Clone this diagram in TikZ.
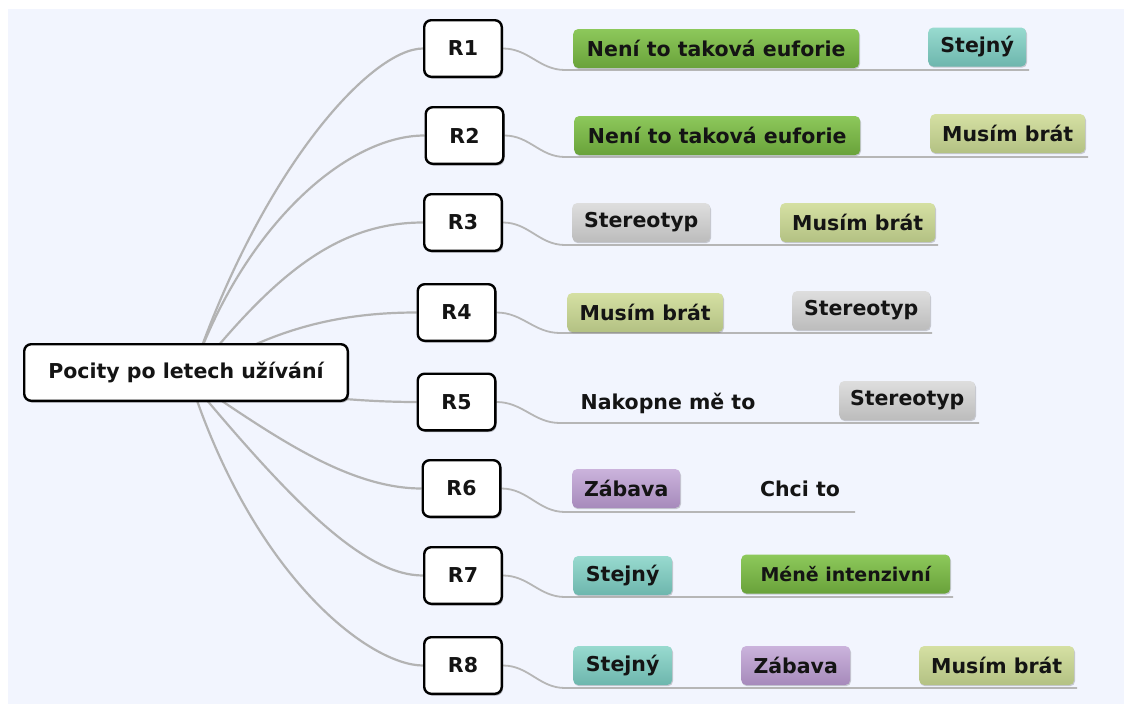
\documentclass[tikz,border=0pt]{standalone}
\usepackage{fontspec}
\setmainfont{DejaVu Sans}
\usetikzlibrary{shadows,backgrounds}

\definecolor{canvas}{HTML}{F2F5FE}
\definecolor{ink}{HTML}{141414}
\definecolor{wire}{HTML}{B3B3B3}
\definecolor{wirethin}{HTML}{B6B6B6}
\definecolor{greenTop}{HTML}{8DC85B}
\definecolor{greenBot}{HTML}{69A23A}
\definecolor{tealTop}{HTML}{98DACF}
\definecolor{tealBot}{HTML}{6DB6AD}
\definecolor{oliveTop}{HTML}{D5E0A3}
\definecolor{oliveBot}{HTML}{B3C183}
\definecolor{grayTop}{HTML}{DEDEDE}
\definecolor{grayBot}{HTML}{BCBCBC}
\definecolor{purpleTop}{HTML}{CBB3DC}
\definecolor{purpleBot}{HTML}{A68ABB}

\begin{document}
\begin{tikzpicture}[x=1pt,y=-1pt,
  every node/.style={font=\fontsize{20.5}{24}\selectfont\bfseries, text=ink},
  softshadow/.style={drop shadow={shadow xshift=1.2pt, shadow yshift=-1.8pt, opacity=0.28, fill=black}},
  rbox/.style={draw=black, line width=2.4pt, rounded corners=7pt, fill=white,
    minimum width=77.6pt, minimum height=56.6pt, inner sep=0pt, softshadow},
  rootbox/.style={rbox, minimum width=323.6pt},
  tag/.style={rounded corners=5pt, minimum height=39pt, inner sep=0pt, anchor=west,
    drop shadow={shadow xshift=0.8pt, shadow yshift=-1.2pt, opacity=0.18, fill=black}},
  tgreen/.style={tag, top color=greenTop, bottom color=greenBot},
  tteal/.style={tag, top color=tealTop, bottom color=tealBot},
  tolive/.style={tag, top color=oliveTop, bottom color=oliveBot},
  tgray/.style={tag, top color=grayTop, bottom color=grayBot},
  tpurple/.style={tag, top color=purpleTop, bottom color=purpleBot},
  plain/.style={inner sep=0pt},
  lconn/.style={draw=wire, line width=2.2pt},
  rconn/.style={draw=wirethin, line width=1.8pt}
]
\useasboundingbox (0,0) rectangle (1124,704);

% central topic and respondents
\node[rootbox] (root) at (186,372.5) {Pocity po letech užívání};
\coordinate (hub) at (190,380);

\node[rbox] (R1) at (463,48.5) {R1};
\node[rbox] (R2) at (464.5,135.5) {R2};
\node[rbox] (R3) at (463,222.5) {R3};
\node[rbox] (R4) at (456.5,312.5) {R4};
\node[rbox] (R5) at (456.5,402) {R5};
\node[rbox] (R6) at (461.5,488.5) {R6};
\node[rbox] (R7) at (463,575.5) {R7};
\node[rbox] (R8) at (463,665.5) {R8};

% answer tags
\node[tgreen, minimum width=286pt] (t11) at (573,48.5) {Není to taková euforie};
\node[tteal, minimum width=98pt] (t12) at (928,47) {Stejný};

\node[tgreen, minimum width=286pt] (t21) at (574,135.5) {Není to taková euforie};
\node[tolive, minimum width=155pt] (t22) at (930,133.5) {Musím brát};

\node[tgray, minimum width=138pt] (t31) at (572,222.5) {Stereotyp};
\node[tolive, minimum width=155pt] (t32) at (780,222.5) {Musím brát};

\node[tolive, minimum width=156pt] (t41) at (567,312.5) {Musím brát};
\node[tgray, minimum width=138pt] (t42) at (792,310.5) {Stereotyp};

\node[plain] (t51) at (668,403) {Nakopne mě to};
\node[tgray, minimum width=136pt] (t52) at (839,400.5) {Stereotyp};

\node[tpurple, minimum width=108pt] (t61) at (572,488.5) {Zábava};
\node[plain] (t62) at (800,489) {Chci to};

\node[tteal, minimum width=99pt] (t71) at (573,575.5) {Stejný};
\node[tgreen, minimum width=209pt, font=\fontsize{19}{23}\selectfont\bfseries] (t72) at (741,574) {Méně intenzivní};

\node[tteal, minimum width=99pt] (t81) at (573,665.5) {Stejný};
\node[tpurple, minimum width=109pt] (t82) at (741,665.5) {Zábava};
\node[tolive, minimum width=155pt] (t83) at (919,665.5) {Musím brát};

% underline ends
\coordinate (u1a) at (565,70);  \coordinate (u1b) at (1029,70);
\coordinate (u2a) at (565,157); \coordinate (u2b) at (1088,157);
\coordinate (u3a) at (565,245); \coordinate (u3b) at (938,245);
\coordinate (u4a) at (560,333); \coordinate (u4b) at (932,333);
\coordinate (u5a) at (560,423); \coordinate (u5b) at (979,423);
\coordinate (u6a) at (565,512); \coordinate (u6b) at (855,512);
\coordinate (u7a) at (565,597); \coordinate (u7b) at (953,597);
\coordinate (u8a) at (565,688); \coordinate (u8b) at (1077,688);

\begin{pgfonlayer}{background}
  \fill[white] (0,0) rectangle (1124,704);
  \fill[canvas] (8,9) rectangle (1124,704);

  % branches from the central topic
  \draw[lconn] (hub) .. controls +(70,-210) and +(-52,0) .. (R1.west);
  \draw[lconn] (hub) .. controls +(50,-150) and +(-80,0) .. (R2.west);
  \draw[lconn] (hub) .. controls +(80,-100) and +(-90,0) .. (R3.west);
  \draw[lconn] (hub) .. controls +(70,-45) and +(-90,0) .. (R4.west);
  \draw[lconn] (hub) .. controls +(100,15) and +(-60,0) .. (R5.west);
  \draw[lconn] (hub) .. controls +(70,45) and +(-80,0) .. (R6.west);
  \draw[lconn] (hub) .. controls +(100,120) and +(-60,0) .. (R7.west);
  \draw[lconn] (hub) .. controls +(65,200) and +(-52,0) .. (R8.west);

  % underlines carrying the answers
  \draw[rconn] (R1.east) to[out=0,in=180] (u1a) -- (u1b);
  \draw[rconn] (R2.east) to[out=0,in=180] (u2a) -- (u2b);
  \draw[rconn] (R3.east) to[out=0,in=180] (u3a) -- (u3b);
  \draw[rconn] (R4.east) to[out=0,in=180] (u4a) -- (u4b);
  \draw[rconn] (R5.east) to[out=0,in=180] (u5a) -- (u5b);
  \draw[rconn] (R6.east) to[out=0,in=180] (u6a) -- (u6b);
  \draw[rconn] (R7.east) to[out=0,in=180] (u7a) -- (u7b);
  \draw[rconn] (R8.east) to[out=0,in=180] (u8a) -- (u8b);
\end{pgfonlayer}
\end{tikzpicture}
\end{document}
